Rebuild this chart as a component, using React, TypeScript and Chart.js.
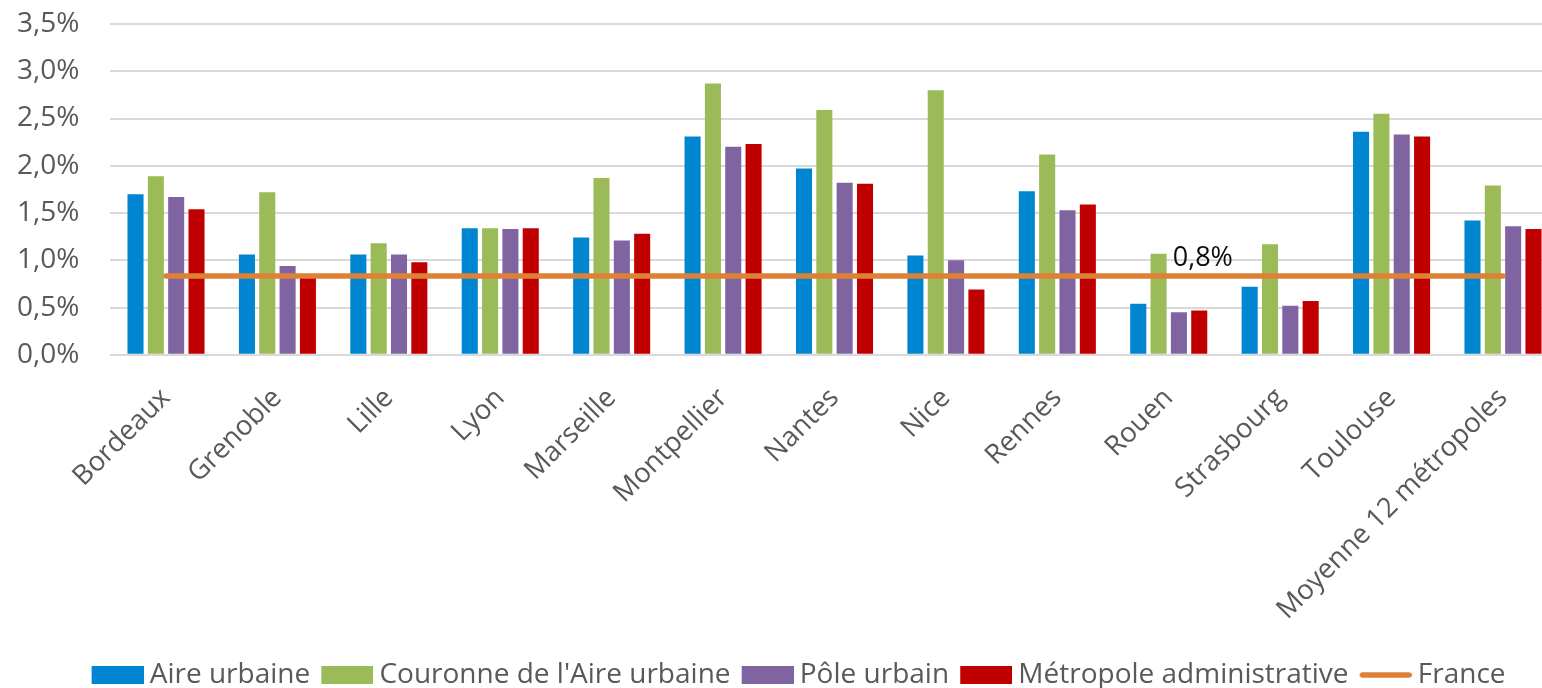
import React, { useEffect, useRef } from "react";
import { Chart, registerables } from "chart.js";

Chart.register(...registerables);

const categories = [
  "Bordeaux", "Grenoble", "Lille", "Lyon", "Marseille", "Montpellier", "Nantes",
  "Nice", "Rennes", "Rouen", "Strasbourg", "Toulouse", "Moyenne 12 métropoles",
];
const aireUrbaine = [1.70, 1.06, 1.06, 1.34, 1.24, 2.31, 1.97, 1.05, 1.73, 0.54, 0.72, 2.36, 1.42];
const couronne = [1.89, 1.72, 1.18, 1.34, 1.87, 2.87, 2.59, 2.80, 2.12, 1.07, 1.17, 2.55, 1.79];
const poleUrbain = [1.67, 0.94, 1.06, 1.33, 1.21, 2.20, 1.82, 1.00, 1.53, 0.45, 0.52, 2.33, 1.36];
const metropole = [1.54, 0.84, 0.98, 1.34, 1.28, 2.23, 1.81, 0.69, 1.59, 0.47, 0.57, 2.31, 1.33];
const france = [0.834, 0.834, 0.834, 0.834, 0.834, 0.834, 0.834, 0.834, 0.834, 0.834, 0.834, 0.834, 0.834];
const franceLabelIndex = 9;
const yTicks = [0, 0.5, 1, 1.5, 2, 2.5, 3, 3.5];

const FONT = "'Open Sans', sans-serif";
const GREY = "#595959";
const COLORS = ["#0086D1", "#9BBB59", "#8064A2", "#C00000", "#DD8136"];

const fmt = (v: number) => v.toFixed(1).replace(".", ",") + "%";

const labelPlugin = {
  id: "franceLabel",
  afterDatasetsDraw(chart: any) {
    const meta = chart.getDatasetMeta(4);
    const pt = meta.data[franceLabelIndex];
    if (!pt) return;
    const ctx = chart.ctx;
    ctx.save();
    ctx.font = `27px ${FONT}`;
    ctx.fillStyle = "#0d0d0d";
    ctx.textAlign = "left";
    ctx.textBaseline = "alphabetic";
    ctx.fillText(fmt(france[franceLabelIndex]), pt.x + 4, pt.y - 10);
    ctx.restore();
  },
};

function makeBoxIcon(color: string) {
  const c = document.createElement("canvas");
  c.width = 60;
  c.height = 18;
  const x = c.getContext("2d")!;
  x.fillStyle = color;
  x.fillRect(8, 0, 52, 18);
  return c;
}
function makeLineIcon(color: string) {
  const c = document.createElement("canvas");
  c.width = 60;
  c.height = 8;
  const x = c.getContext("2d")!;
  x.strokeStyle = color;
  x.lineWidth = 5.5;
  x.lineCap = "round";
  x.beginPath();
  x.moveTo(10.75, 4);
  x.lineTo(57.25, 4);
  x.stroke();
  return c;
}

export default function App() {
  const ref = useRef<HTMLCanvasElement | null>(null);
  useEffect(() => {
    if (!ref.current) return;
    Chart.defaults.font.family = FONT;
    const icons = [
      makeBoxIcon(COLORS[0]),
      makeBoxIcon(COLORS[1]),
      makeBoxIcon(COLORS[2]),
      makeBoxIcon(COLORS[3]),
      makeLineIcon(COLORS[4]),
    ];
    const defaultGen = (Chart as any).defaults.plugins.legend.labels.generateLabels;
    const chart = new Chart(ref.current, {
      type: "bar",
      data: {
        labels: categories,
        datasets: [
          { label: "Aire urbaine", data: aireUrbaine, backgroundColor: COLORS[0], order: 1 },
          { label: "Couronne de l'Aire urbaine", data: couronne, backgroundColor: COLORS[1], order: 1 },
          { label: "Pôle urbain", data: poleUrbain, backgroundColor: COLORS[2], order: 1 },
          { label: "Métropole administrative", data: metropole, backgroundColor: COLORS[3], order: 1 },
          {
            type: "line",
            label: "France",
            data: france,
            borderColor: COLORS[4],
            backgroundColor: COLORS[4],
            borderWidth: 5.5,
            borderCapStyle: "round",
            pointRadius: 0,
            pointHoverRadius: 0,
            order: 0,
          } as any,
        ],
      },
      options: {
        responsive: false,
        animation: false,
        layout: { padding: { top: 24, right: 0, left: 0, bottom: 0 } },
        datasets: { bar: { categoryPercentage: 0.73, barPercentage: 0.79, borderWidth: 0 } } as any,
        plugins: {
          tooltip: { enabled: false },
          legend: {
            position: "bottom",
            labels: {
              usePointStyle: true,
              pointStyleWidth: 44.25,
              boxHeight: 18,
              padding: 11,
              color: GREY,
              font: { size: 28, family: FONT },
              sort: (a: any, b: any) => a.datasetIndex - b.datasetIndex,
              generateLabels: (c: any) =>
                defaultGen(c).map((it: any) => ({ ...it, pointStyle: icons[it.datasetIndex], lineWidth: 0 })),
            },
          },
        },
        scales: {
          x: {
            grid: { display: false, drawTicks: false },
            border: { display: false },
            ticks: {
              autoSkip: false,
              maxRotation: 45,
              minRotation: 45,
              padding: 27,
              color: GREY,
              font: { size: 27.5, family: FONT },
            },
            afterFit: (s: any) => { s.height = 295.2; },
          },
          y: {
            min: 0,
            max: 3.5,
            afterBuildTicks: (s: any) => { s.ticks = yTicks.map((v) => ({ value: v })); },
            grid: { color: "#d9d9d9", lineWidth: 2, drawTicks: true, tickLength: 31, tickColor: "rgba(0,0,0,0)" },
            border: { display: false },
            ticks: {
              padding: 0,
              color: GREY,
              font: { size: 28, family: FONT },
              callback: (v: any) => fmt(Number(v)),
            },
            afterFit: (s: any) => { s.width = 110.3; },
          },
          y2: {
            position: "right",
            display: true,
            grid: { display: false, drawTicks: false },
            border: { display: false },
            ticks: { display: false },
            afterFit: (s: any) => { s.width = 38.3; },
          },
        },
      },
      plugins: [labelPlugin],
    });
    return () => chart.destroy();
  }, []);
  return (
    <div style={{ position: "fixed", left: 0, top: 0, width: 1542, height: 688, overflow: "hidden", background: "#fff" }}>
      <canvas ref={ref} width={1597} height={699} />
    </div>
  );
}
